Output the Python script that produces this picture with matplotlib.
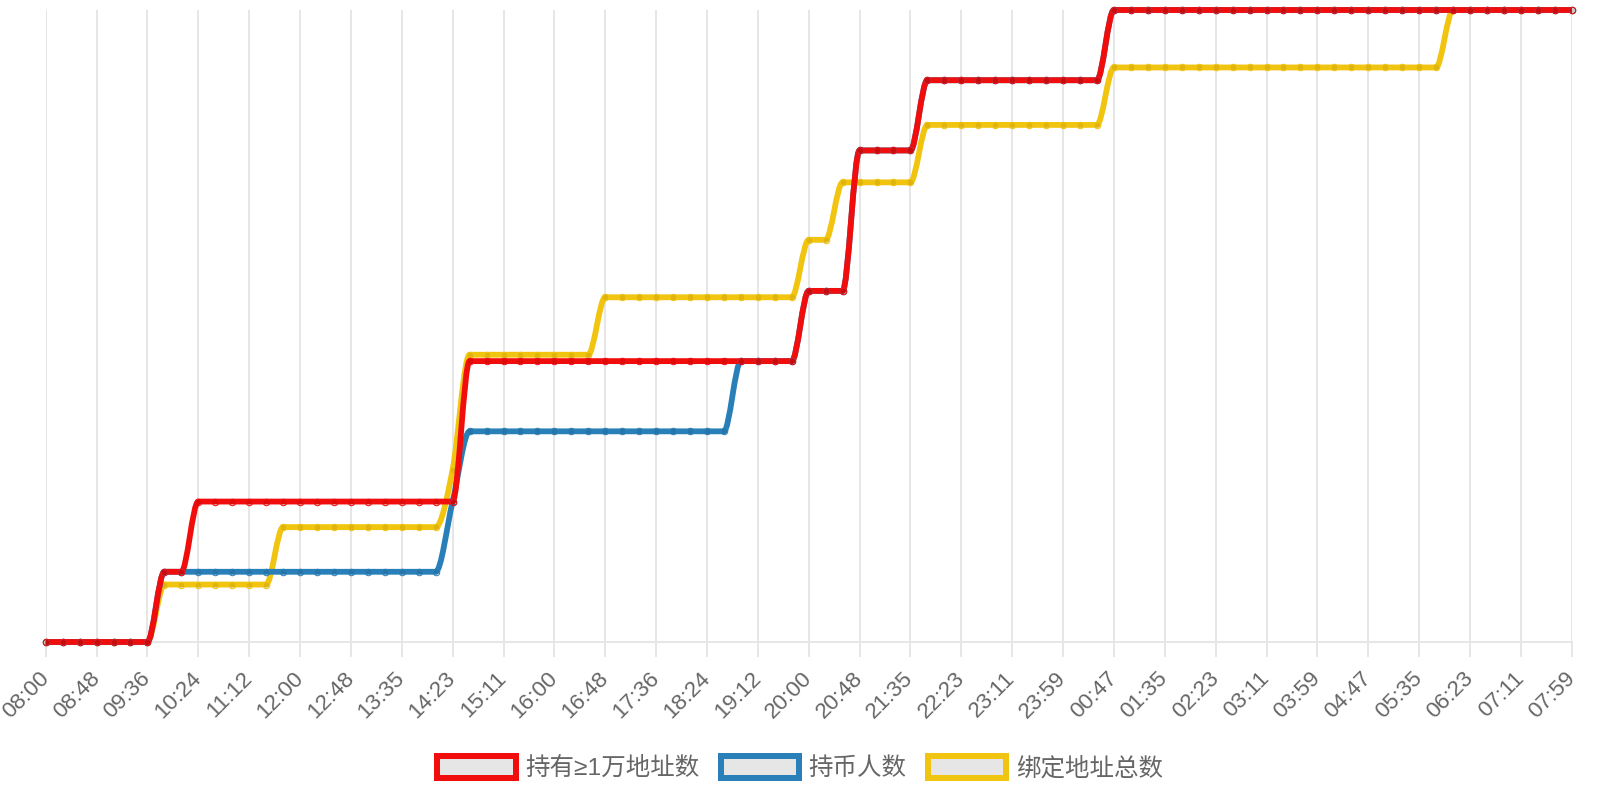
import matplotlib.pyplot as plt
import matplotlib.patches as mpatches
from matplotlib.path import Path
import numpy as np

plt.rcParams['font.family'] = ['Liberation Sans', 'Noto Sans CJK SC', 'DejaVu Sans']

time_ticks = ['08:00', '08:48', '09:36', '10:24', '11:12', '12:00', '12:48', '13:35',
              '14:23', '15:11', '16:00', '16:48', '17:36', '18:24', '19:12', '20:00',
              '20:48', '21:35', '22:23', '23:11', '23:59', '00:47', '01:35', '02:23',
              '03:11', '03:59', '04:47', '05:35', '06:23', '07:11', '07:59']

# 持有≥1万地址数
big_holders = [0, 0, 0, 0, 0, 0, 0, 1, 1, 2, 2, 2, 2, 2, 2, 2, 2, 2, 2, 2,
               2, 2, 2, 2, 2, 4, 4, 4, 4, 4, 4, 4, 4, 4, 4, 4, 4, 4, 4, 4,
               4, 4, 4, 4, 4, 5, 5, 5, 7, 7, 7, 7, 8, 8, 8, 8, 8, 8, 8, 8,
               8, 8, 8, 9, 9, 9, 9, 9, 9, 9, 9, 9, 9, 9, 9, 9, 9, 9, 9, 9,
               9, 9, 9, 9, 9, 9, 9, 9, 9, 9, 9]
# 持币人数
holders = [0, 0, 0, 0, 0, 0, 0, 1, 1, 1, 1, 1, 1, 1, 1, 1, 1, 1, 1, 1,
           1, 1, 1, 1, 2, 3, 3, 3, 3, 3, 3, 3, 3, 3, 3, 3, 3, 3, 3, 3,
           3, 4, 4, 4, 4, 5, 5, 5, 7, 7, 7, 7, 8, 8, 8, 8, 8, 8, 8, 8,
           8, 8, 8, 9, 9, 9, 9, 9, 9, 9, 9, 9, 9, 9, 9, 9, 9, 9, 9, 9,
           9, 9, 9, 9, 9, 9, 9, 9, 9, 9, 9]
# 绑定地址总数
bound = [0, 0, 0, 0, 0, 0, 0, 1, 1, 1, 1, 1, 1, 1, 2, 2, 2, 2, 2, 2,
         2, 2, 2, 2, 3, 5, 5, 5, 5, 5, 5, 5, 5, 6, 6, 6, 6, 6, 6, 6,
         6, 6, 6, 6, 6, 7, 7, 8, 8, 8, 8, 8, 9, 9, 9, 9, 9, 9, 9, 9,
         9, 9, 9, 10, 10, 10, 10, 10, 10, 10, 10, 10, 10, 10, 10, 10, 10, 10, 10, 10,
         10, 10, 10, 11, 11, 11, 11, 11, 11, 11, 11]

names = ['持有≥1万地址数', '持币人数', '绑定地址总数']
colors = ['#f20d0d', '#2980b9', '#f1c40f']

PX = 0.72  # points per pixel at dpi 100


def monotone_path(xs, ys):
    # monotone cubic bezier through the points (same idea as chart.js)
    xs = np.asarray(xs, float)
    ys = np.asarray(ys, float)
    n = len(xs)
    d = np.diff(ys) / np.diff(xs)
    m = np.zeros(n)
    m[0], m[-1] = d[0], d[-1]
    for i in range(1, n - 1):
        if np.sign(d[i - 1]) != np.sign(d[i]):
            m[i] = 0
        else:
            m[i] = (d[i - 1] + d[i]) / 2
    for i in range(n - 1):
        if d[i] == 0:
            m[i] = m[i + 1] = 0
            continue
        a, b = m[i] / d[i], m[i + 1] / d[i]
        s = a * a + b * b
        if s > 9:
            t = 3 / np.sqrt(s)
            m[i] = a * t * d[i]
            m[i + 1] = b * t * d[i]
    verts = [(xs[0], ys[0])]
    codes = [Path.MOVETO]
    for i in range(n - 1):
        dx = (xs[i + 1] - xs[i]) / 3
        verts += [(xs[i] + dx, ys[i] + m[i] * dx),
                  (xs[i + 1] - dx, ys[i + 1] - m[i + 1] * dx),
                  (xs[i + 1], ys[i + 1])]
        codes += [Path.CURVE4] * 3
    return Path(verts, codes)


def draw_series(axis, ys, color):
    x = np.arange(len(ys))
    patch = mpatches.PathPatch(monotone_path(x, ys), facecolor='none', edgecolor=color,
                               lw=5.8 * PX, capstyle='butt', joinstyle='round', clip_on=False)
    axis.add_patch(patch)
    axis.plot(x, ys, ls='none', marker='o', ms=6.5 * PX, mfc=(0, 0, 0, 0.08),
              mec=color, mew=1 * PX, clip_on=False)


fig = plt.figure(figsize=(16, 8), dpi=100)
ax = fig.add_axes([45.7 / 1600, 158 / 800, 1526 / 1600, 632 / 800])
ax2 = ax.twinx()

x = np.arange(len(big_holders))

# bottom axes: yellow series + grid, top axes: blue then red
draw_series(ax, bound, colors[2])
draw_series(ax2, holders, colors[1])
draw_series(ax2, big_holders, colors[0])

ax.set_xlim(0, len(x) - 1)
ax.set_ylim(min(bound), max(bound))
ax2.set_ylim(min(big_holders + holders), max(big_holders + holders))

ax.set_xticks(x[::3])
ax.set_xticklabels(time_ticks, rotation=45, ha='right', va='center',
                   rotation_mode='anchor', fontsize=22.5 * PX, color='#666666')
ax.tick_params(axis='x', length=15 * PX, width=2 * PX, color='#e6e6e6', pad=18 * PX)
ax.grid(axis='x', color='#e6e6e6', lw=2 * PX)
ax.set_axisbelow(True)
ax.set_yticks([])
ax2.set_yticks([])

for a in (ax, ax2):
    for s in ('top', 'right', 'left'):
        a.spines[s].set_visible(False)
ax2.spines['bottom'].set_visible(False)
ax.spines['bottom'].set_color('#e6e6e6')
ax.spines['bottom'].set_linewidth(2 * PX)
ax.axvline(0, color='#cccccc', lw=2 * PX, zorder=0.5)

handles = [mpatches.Patch(facecolor='#e6e6e6', edgecolor=c, lw=6 * PX) for c in colors]
fig.legend(handles, names, loc='center', bbox_to_anchor=(0.5, 1 - 768 / 800), ncol=3,
           frameon=False, fontsize=24.5 * PX, labelcolor='#666666',
           handlelength=3.2, handleheight=1.0, handletextpad=0.4, columnspacing=0.85)

fig.savefig('out.png', dpi=100)
plt.close()
